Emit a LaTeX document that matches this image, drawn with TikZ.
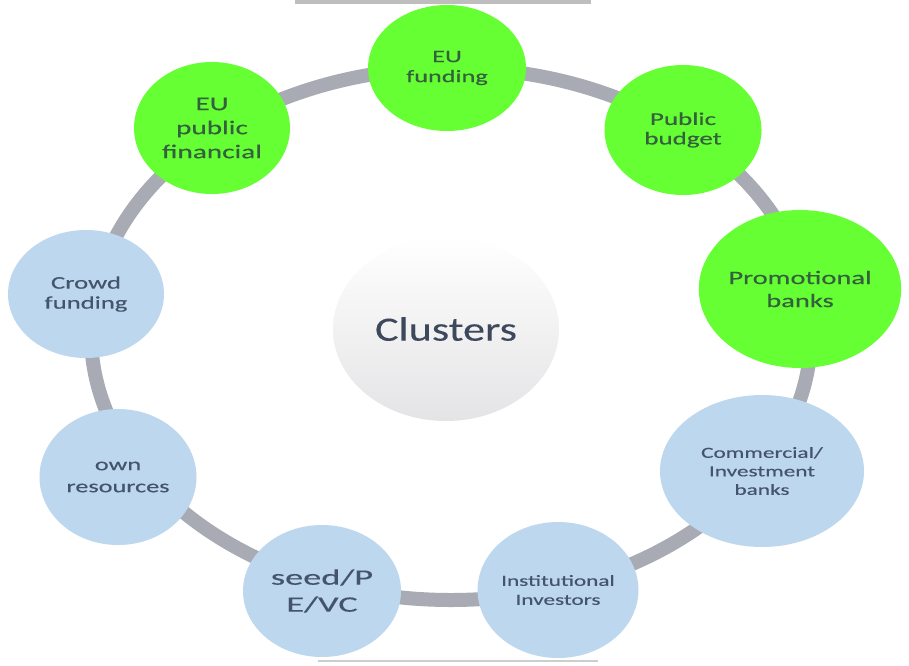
\documentclass[tikz,border=0pt]{standalone}
\usepackage{fontspec}
\setmainfont{Carlito}
\newfontfamily\lbl{Carlito}[FakeStretch=1.5,FakeBold=0.35]
\newfontfamily\lblw{Carlito}[FakeStretch=1.65,FakeBold=0.35]
\newfontfamily\ctr{Carlito}[FakeStretch=1.3,FakeBold=0.15]
\usetikzlibrary{shapes.geometric}
\definecolor{grn}{RGB}{102,255,51}
\definecolor{blu}{RGB}{189,215,238}
\definecolor{ringc}{RGB}{168,170,180}
\definecolor{gtxt}{RGB}{52,96,62}
\definecolor{btxt}{RGB}{68,84,106}
\definecolor{ctxt}{RGB}{62,72,92}
\definecolor{topbar}{RGB}{190,190,190}
\definecolor{botline}{RGB}{205,205,205}
\definecolor{cgray}{RGB}{228,228,230}
\begin{document}
\begin{tikzpicture}[x=1pt,y=-1pt,
  bub/.style={ellipse, inner sep=0pt, align=center},
  gbub/.style={bub, fill=grn, text=gtxt},
  bbub/.style={bub, fill=blu, text=btxt}]
\useasboundingbox (0,0) rectangle (909,665);
\fill[white] (0,0) rectangle (909,665);
\fill[topbar] (295,0) rectangle (591,4);
\draw[ringc, line width=14pt] (451,334) ellipse [x radius=360, y radius=266];
\node[ellipse, inner sep=0pt, minimum width=226, minimum height=184,
      top color=white, middle color=white, bottom color=cgray,
      text=ctxt, font=\ctr\fontsize{34}{40}\selectfont] (clu) at (446,329) {Clusters};
\node[gbub, minimum width=158, minimum height=126, font=\lbl\fontsize{17.5}{20}\selectfont] (euf) at (447,68) {EU\\funding};
\node[gbub, minimum width=157, minimum height=130, font=\lbl\fontsize{18}{19.5}\selectfont] (pub) at (683,130) {Public\\budget};
\node[gbub, minimum width=200, minimum height=158, font=\lbl\fontsize{19}{23}\selectfont] (pro) at (800,289) {Promotional\\banks};
\node[bbub, minimum width=204, minimum height=152, font=\lbl\fontsize{15.5}{18.5}\selectfont] (com) at (762,471) {Commercial/\\Investment\\banks};
\node[bbub, minimum width=152, minimum height=136, font=\lbl\fontsize{15.5}{19}\selectfont] (ins) at (558,590) {Institutional\\Investors};
\node[bbub, minimum width=158, minimum height=132, font=\lblw\fontsize{22}{27}\selectfont] (sed) at (322,591) {seed/P\\E/VC};
\node[bbub, minimum width=157, minimum height=136, font=\lbl\fontsize{17.5}{22}\selectfont] (own) at (118,477) {own\\resources};
\node[bbub, minimum width=156, minimum height=128, font=\lbl\fontsize{17.8}{20}\selectfont] (crw) at (86,294) {Crowd\\funding};
\node[gbub, minimum width=156, minimum height=132, font=\lbl\fontsize{19.5}{24}\selectfont] (eup) at (212,128) {EU\\public\\financial};
\draw[botline, line width=2.5pt] (318,661) -- (598,661);
\end{tikzpicture}
\end{document}
